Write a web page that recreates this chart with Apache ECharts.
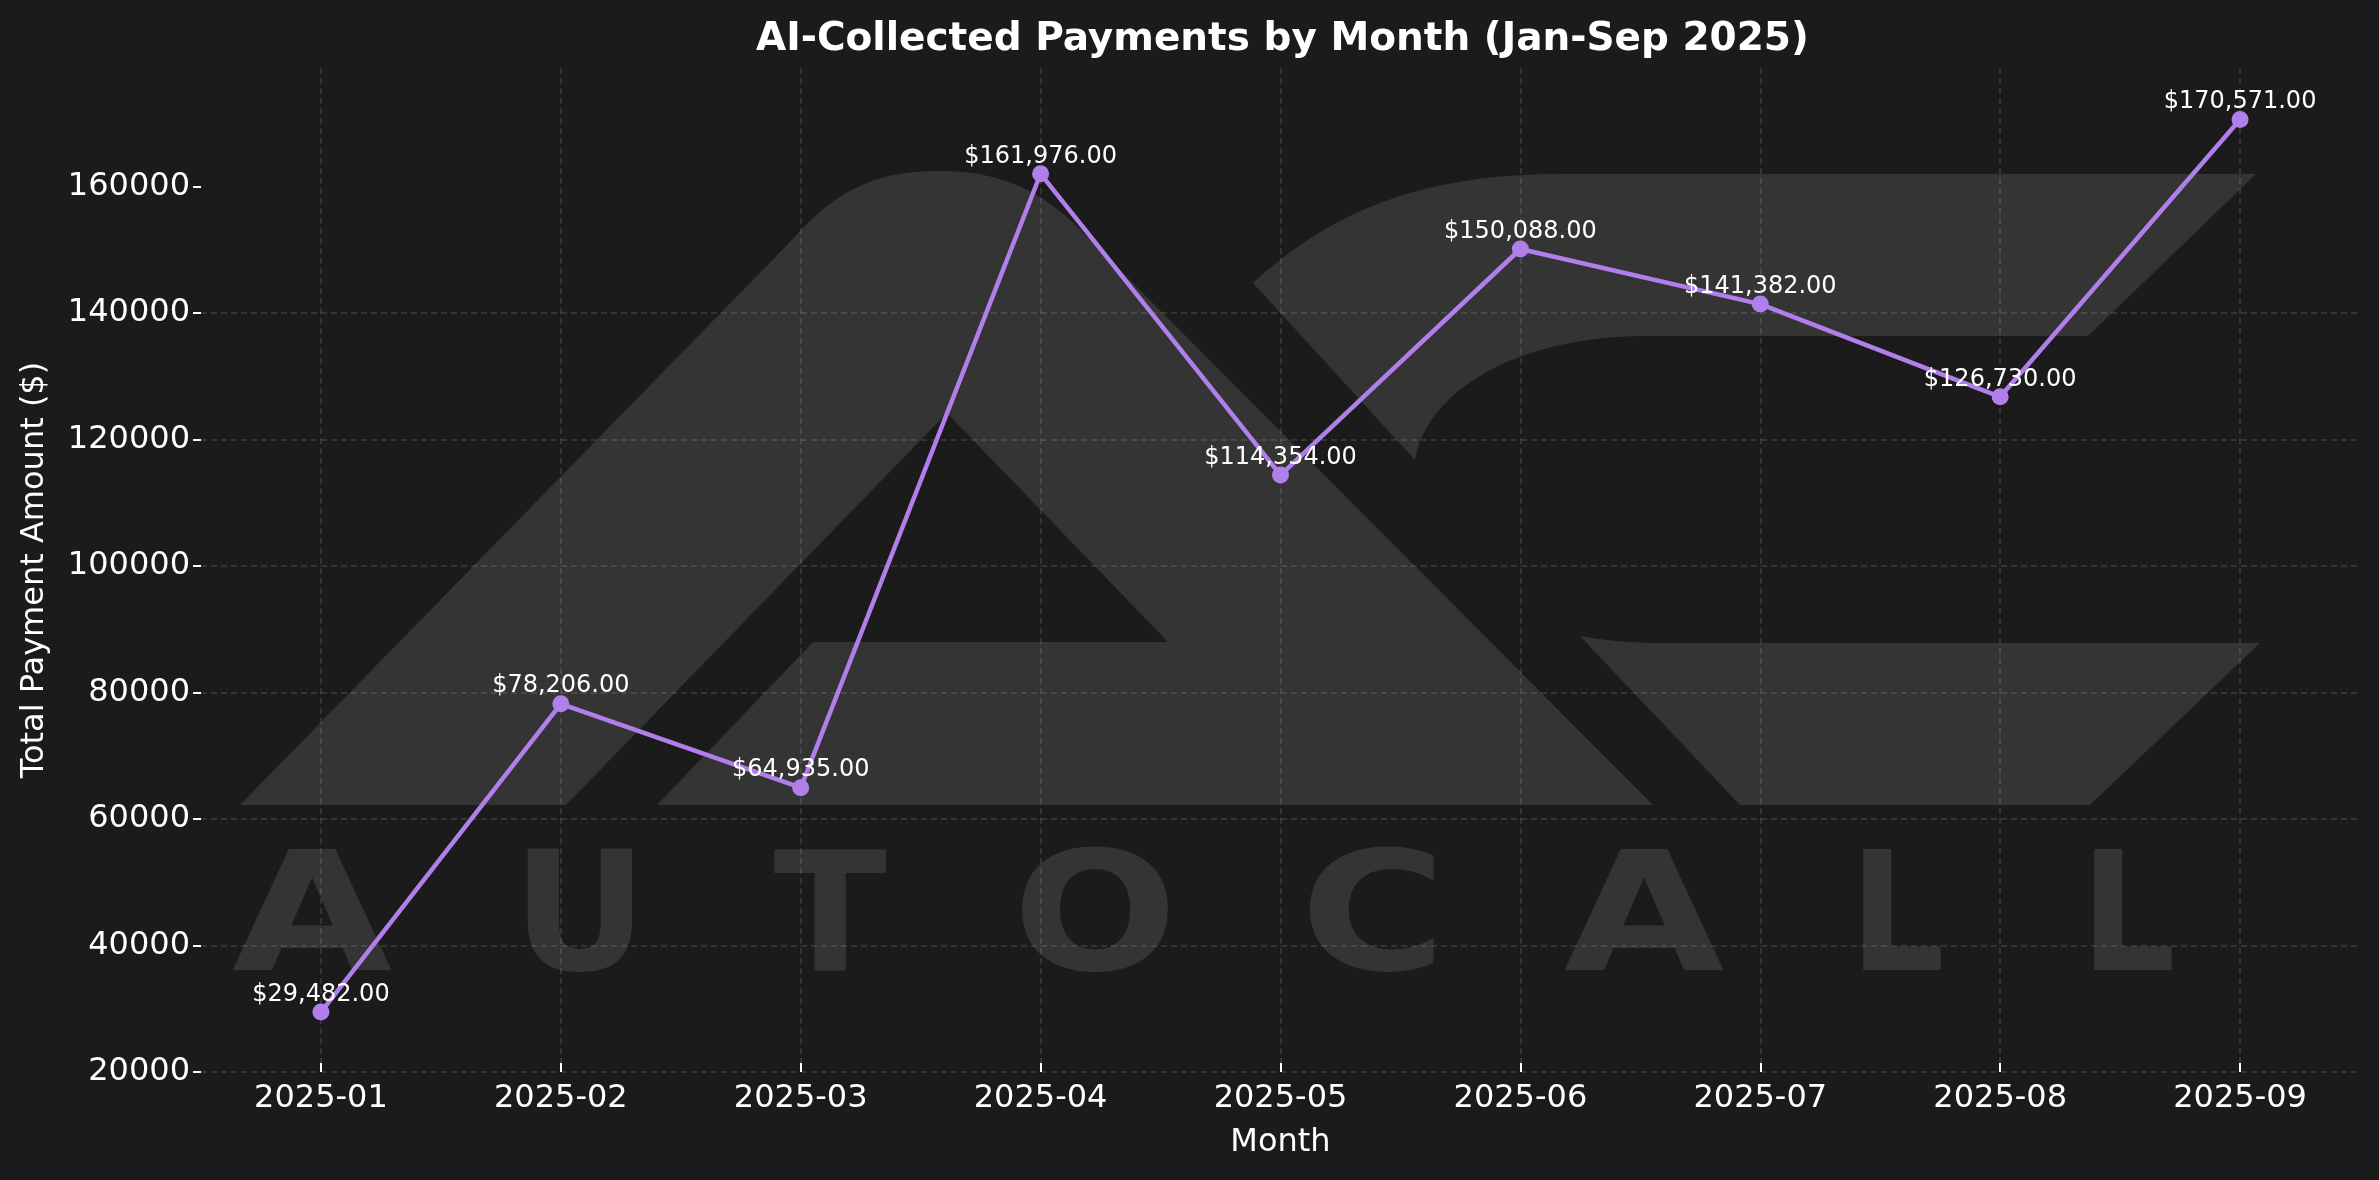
<!DOCTYPE html>
<html>
<head>
<meta charset="utf-8">
<script src="https://cdn.jsdelivr.net/npm/echarts@6/dist/echarts.min.js"></script>
<style>
html,body{margin:0;padding:0;background:#1b1b1b;}
#chart{width:2379px;height:1180px;}
</style>
</head>
<body>
<div id="chart"></div>
<script>
// ---- data ----
const months = ['2025-01','2025-02','2025-03','2025-04','2025-05','2025-06','2025-07','2025-08','2025-09'];
const payments = [29482, 78206, 64935, 161976, 114354, 150088, 141382, 126730, 170571];
const yTicks = [20000, 40000, 60000, 80000, 100000, 120000, 140000, 160000];
const yMin = 20000;
const yMax = 178700;

// ---- background watermark (decoration, pixel layout) ----
const WM = '#343434';
function cubic(p0, p1, p2, p3, n) {
  const pts = [];
  for (let i = 1; i <= n; i++) {
    const t = i / n, u = 1 - t;
    pts.push([
      u*u*u*p0[0] + 3*u*u*t*p1[0] + 3*u*t*t*p2[0] + t*t*t*p3[0],
      u*u*u*p0[1] + 3*u*u*t*p1[1] + 3*u*t*t*p2[1] + t*t*t*p3[1]
    ]);
  }
  return pts;
}
const bigA = [[240,805],[789,243]]
  .concat(cubic([789,243],[840,185],[880,171],[940,171],16))
  .concat(cubic([940,171],[1000,171],[1045,190],[1090,240],16))
  .concat([[1653,805],[657,805],[813,642],[1168,642],[947,413],[566,805]]);
const swoosh = [[1253,283]]
  .concat(cubic([1253,283],[1330,212],[1420,174],[1560,174],20))
  .concat([[2256,174],[2088,336],[1640,336]])
  .concat(cubic([1640,336],[1510,338],[1425,395],[1415,460],20));
const lowerBar = [[1580,636]]
  .concat(cubic([1580,636],[1610,641],[1630,643],[1665,643],8))
  .concat([[2260,643],[2090,805],[1740,805]]);
const wmLetters = [
  ['A', 312, 1.25], ['U', 580, 1.0], ['T', 830, 1.0], ['O', 1095, 1.17],
  ['C', 1373, 1.2], ['A', 1644, 1.25], ['L', 1897, 0.9], ['L', 2128, 0.9]
];
const graphicEls = [
  {type:'polygon', z:-1, silent:true, shape:{points: bigA}, style:{fill: WM}},
  {type:'polygon', z:-1, silent:true, shape:{points: swoosh}, style:{fill: WM}},
  {type:'polygon', z:-1, silent:true, shape:{points: lowerBar}, style:{fill: WM}}
].concat(wmLetters.map(l => ({
  type:'text', z:-1, silent:true, x:l[1], y:927, scaleX:l[2], originX:0, originY:0,
  style:{text:l[0], fill:WM, fontSize:166, fontWeight:'bold', fontFamily:'DejaVu Sans',
         align:'center', verticalAlign:'middle'}
})));

const FONT = 'DejaVu Sans';
const LINE = '#b07fec';
const GRID = 'rgba(255,255,255,0.15)';

const chart = echarts.init(document.getElementById('chart'), null, {renderer:'canvas'});
chart.setOption({
  backgroundColor: '#1b1b1b',
  animation: false,
  title: {
    text: 'AI-Collected Payments by Month (Jan-Sep 2025)',
    left: 756, top: 20, padding: 0,
    textStyle: {color:'#ffffff', fontSize:39, fontWeight:'bold', fontFamily:FONT}
  },
  graphic: {elements: graphicEls},
  grid: {left: 201, right: 19, top: 68, bottom: 108},
  xAxis: {
    type: 'category',
    data: months,
    boundaryGap: true,
    axisLine: {show:false},
    axisTick: {show:true, alignWithLabel:true, inside:true, length:9, lineStyle:{color:'#ffffff', width:2}},
    axisLabel: {color:'#ffffff', fontSize:32, fontFamily:FONT, margin:11},
    splitLine: {show:true, alignWithLabel:true, lineStyle:{color:GRID, width:1.5, type:[6,4]}},
    name: 'Month', nameLocation: 'middle', nameGap: 55,
    nameTextStyle: {color:'#ffffff', fontSize:32, fontFamily:FONT}
  },
  yAxis: {
    type: 'value',
    min: yMin, max: yMax, interval: 20000,
    axisLine: {show:false},
    axisTick: {show:true, length:8, lineStyle:{color:'#ffffff', width:2}, customValues: yTicks},
    axisLabel: {color:'#ffffff', fontSize:32, fontFamily:FONT, margin:11, customValues: yTicks,
                formatter: v => String(v)},
    splitLine: {show:true, showMaxLine:false, lineStyle:{color:GRID, width:1.5, type:[6,4]}},
    name: 'Total Payment Amount ($)', nameLocation: 'middle', nameGap: 150,
    nameTextStyle: {color:'#ffffff', fontSize:32, fontFamily:FONT}
  },
  series: [{
    type: 'line',
    data: payments,
    symbol: 'circle',
    symbolSize: 17,
    z: 3,
    lineStyle: {color: LINE, width: 4.5},
    itemStyle: {color: LINE},
    label: {
      show: true, position: 'top', distance: -3,
      color: '#ffffff', fontSize: 24, fontFamily: FONT,
      formatter: p => '$' + p.value.toLocaleString('en-US', {minimumFractionDigits:2, maximumFractionDigits:2})
    }
  }]
});
</script>
</body>
</html>
